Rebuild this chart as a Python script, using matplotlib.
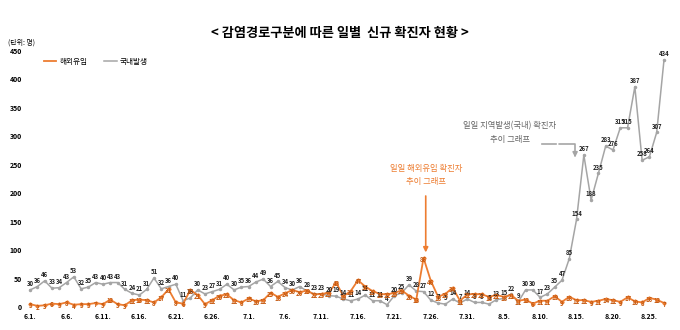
import matplotlib
matplotlib.use('Agg')
import matplotlib.pyplot as plt
import pandas as pd

plt.rcParams['font.family'] = ['Noto Sans CJK KR', 'DejaVu Sans']

# 6.1 ~ 8.27
days = pd.date_range('2020-06-01', '2020-08-27')
tick_labels = [f"{d.month}.{d.day}." for d in days]

domestic = [30, 36, 46, 33, 34, 43, 53, 32, 35, 43, 40, 43, 43, 31, 24, 21, 31, 51, 32, 36,
            40, 11, 16, 30, 23, 27, 31, 40, 30, 35,
            36, 44, 49, 36, 45, 34, 30, 36, 28, 23, 23, 20, 19, 14, 11, 14, 21, 11, 11, 4,
            20, 25, 39, 28, 27, 12, 7, 5, 14, 7, 14,
            8, 8, 5, 13, 15, 22, 9, 30, 30, 17, 23, 35, 47, 85, 154, 267, 188, 235, 283, 276,
            315, 315, 387, 258, 264, 307, 434]
imported = [5, 2, 3, 6, 5, 8, 4, 5, 5, 7, 5, 13, 5, 3, 12, 13, 12, 8, 17, 31,
            8, 6, 30, 21, 5, 12, 20, 22, 12, 8,
            15, 10, 12, 25, 18, 24, 30, 26, 29, 22, 23, 25, 43, 19, 28, 47, 36, 28, 23, 22,
            25, 29, 20, 13, 86, 46, 18, 23, 34, 11, 22,
            23, 22, 18, 21, 18, 21, 11, 13, 6, 11, 11, 19, 9, 18, 12, 12, 9, 11, 14, 12,
            9, 17, 10, 8, 16, 13, 7]

orange = '#ed7d31'
gray = '#a5a5a5'
x = list(range(len(days)))

fig = plt.figure(figsize=(6.8, 3.3), dpi=100)
ax = fig.add_axes([25/680, 23/330, 647/680, 256/330])

ax.plot(x, domestic, color=gray, lw=1.1, marker='o', ms=1.5, label='국내발생', zorder=2)
ax.plot(x, imported, color=orange, lw=1.3, marker='D', ms=1.6, label='해외유입', zorder=3)

for i in x:
    ax.annotate(str(domestic[i]), (i, domestic[i]), xytext=(0, 2), textcoords='offset points',
                ha='center', va='bottom', fontsize=4.3, fontweight='bold', color='#222222')
    ax.annotate(str(imported[i]), (i, imported[i]), xytext=(0, -1), textcoords='offset points',
                ha='center', va='center', fontsize=4.3, fontweight='bold', color='#c55a11')

ax.set_ylim(0, 450)
ax.set_xlim(-0.7, 88.1)
ax.set_yticks(range(0, 451, 50))
ax.set_xticks(x[::5])
ax.set_xticklabels(tick_labels[::5])
ax.tick_params(length=0, labelsize=5)
for lab in ax.get_xticklabels() + ax.get_yticklabels():
    lab.set_fontweight('bold')
ax.tick_params(axis='y', pad=2)
ax.tick_params(axis='x', pad=4)
for s in ax.spines.values():
    s.set_visible(False)

h, l = ax.get_legend_handles_labels()
ax.legend(h[::-1], l[::-1], loc='upper left', bbox_to_anchor=(0.025, 0.985), ncol=2, frameon=False,
          fontsize=5.5, handlelength=1.6, handletextpad=0.4, columnspacing=2.2, borderaxespad=0)
for line in ax.get_legend().get_lines():
    line.set_marker('')

fig.text(0.5, 0.9, '< 감염경로구분에 따른 일별  신규 확진자 현황 >', ha='center', va='center',
         fontsize=9.5, fontweight='bold')
fig.text(0.012, 0.87, '(단위: 명)', ha='left', va='center', fontsize=5)

# annotations
ax.annotate('', xy=(54.3, 91), xytext=(54.3, 200),
            arrowprops=dict(arrowstyle='-|>', color=orange, lw=1.2, mutation_scale=7))
ax.text(54.3, 212, '일일 해외유입 확진자\n추이 그래프', ha='center', va='bottom',
        fontsize=6, color=orange, linespacing=1.6)
ax.text(65.8, 287, '일일 지역발생(국내) 확진자\n추이 그래프', ha='center', va='bottom',
        fontsize=6, color='#666666', linespacing=1.6)
ax.annotate('', xy=(74.8, 258), xytext=(72.2, 287),
            arrowprops=dict(arrowstyle='-|>', color=gray, lw=1.2, mutation_scale=7,
                            connectionstyle='angle,angleA=0,angleB=90,rad=0'))
ax.plot([70.2, 72.2], [287, 287], color=gray, lw=1.2)

fig.savefig('out.png', dpi=100)
